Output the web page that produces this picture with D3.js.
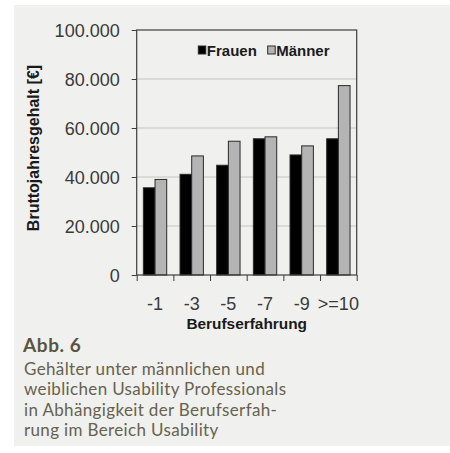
<!DOCTYPE html>
<html>
<head>
<meta charset="utf-8">
<script src="https://cdn.jsdelivr.net/npm/d3@7"></script>
<style>
  body { margin: 0; background: #fff; }
  svg { display: block; }
</style>
</head>
<body>
<svg width="450" height="453"></svg>
<script>
  const categories = ["-1", "-3", "-5", "-7", "-9", ">=10"];
  const series = ["Frauen", "Männer"];
  const frauen = [35600, 41100, 44800, 55600, 49000, 55600];
  const maenner = [39000, 48600, 54600, 56400, 52700, 77300];
  const yTicks = [0, 20000, 40000, 60000, 80000, 100000];
  const captionTitle = "Abb. 6";
  const captionLines = [
    "Gehälter unter männlichen und",
    "weiblichen Usability Professionals",
    "in Abhängigkeit der Berufserfah-",
    "rung im Bereich Usability",
  ];

  const svg = d3.select("svg");
  const colors = { Frauen: "#000000", Männer: "#b4b4b4" };
  const axisColor = "#3c3c3c";

  // panel background
  svg.append("rect")
    .attr("x", 14).attr("y", 5)
    .attr("width", 436).attr("height", 441)
    .attr("fill", "#f0f0ee");

  const plot = { left: 136.7, right: 356.7, top: 30, bottom: 275 };

  const x = d3.scaleBand().domain(categories).range([plot.left, plot.right]);
  const xSub = d3.scaleBand().domain(series).range([0, x.bandwidth()]).paddingOuter(0.57);
  const y = d3.scaleLinear().domain([0, 100000]).range([plot.bottom, plot.top]);
  const fmt = (v) => d3.format(",")(v).replace(/,/g, ".");

  // gridlines
  svg.append("g")
    .selectAll("line")
    .data(yTicks.filter((d) => d > 0 && d < 100000))
    .join("line")
    .attr("x1", plot.left).attr("x2", plot.right)
    .attr("y1", (d) => y(d)).attr("y2", (d) => y(d))
    .attr("stroke", "#c4c4c4").attr("stroke-width", 1);

  // bars
  const rows = categories.map((c, i) => ({ cat: c, Frauen: frauen[i], Männer: maenner[i] }));
  svg.append("g")
    .selectAll("g")
    .data(rows)
    .join("g")
    .attr("transform", (d) => `translate(${x(d.cat)},0)`)
    .selectAll("rect")
    .data((d) => series.map((s) => ({ s, v: d[s] })))
    .join("rect")
    .attr("x", (d) => xSub(d.s))
    .attr("width", xSub.bandwidth())
    .attr("y", (d) => y(d.v))
    .attr("height", (d) => y(0) - y(d.v))
    .attr("fill", (d) => colors[d.s])
    .attr("stroke", "#2a2a2a")
    .attr("stroke-width", 1);

  // frame
  svg.append("rect")
    .attr("x", plot.left).attr("y", plot.top)
    .attr("width", plot.right - plot.left).attr("height", plot.bottom - plot.top)
    .attr("fill", "none").attr("stroke", axisColor).attr("stroke-width", 1.2);

  // y axis
  const yAxis = svg.append("g")
    .attr("transform", `translate(${plot.left},0)`)
    .call(d3.axisLeft(y).tickValues(yTicks).tickFormat(fmt).tickSize(5).tickPadding(12));
  yAxis.select(".domain").remove();
  yAxis.selectAll("line").attr("stroke", axisColor);
  yAxis.selectAll("text")
    .attr("font-family", "Liberation Sans, Arial, sans-serif")
    .attr("font-size", 18).attr("fill", "#3a3a3a").attr("dy", "0.36em");

  // x axis: boundary ticks and centered labels
  const xb = d3.scaleLinear().domain([0, categories.length]).range([plot.left, plot.right]);
  const xTicks = svg.append("g")
    .attr("transform", `translate(0,${plot.bottom})`)
    .call(d3.axisBottom(xb).ticks(categories.length).tickFormat("").tickSize(6));
  xTicks.select(".domain").remove();
  xTicks.selectAll("line").attr("stroke", axisColor);

  const xAxis = svg.append("g")
    .attr("transform", `translate(0,${plot.bottom})`)
    .call(d3.axisBottom(x).tickSize(0).tickPadding(22));
  xAxis.select(".domain").remove();
  xAxis.selectAll("text")
    .attr("font-family", "Liberation Sans, Arial, sans-serif")
    .attr("font-size", 18).attr("fill", "#3a3a3a");

  // axis titles
  svg.append("text")
    .attr("x", (plot.left + plot.right) / 2).attr("y", 329)
    .attr("text-anchor", "middle")
    .attr("font-family", "Liberation Sans, Arial, sans-serif")
    .attr("font-weight", "bold").attr("font-size", 15.4).attr("fill", "#1a1a1a")
    .text("Berufserfahrung");

  svg.append("text")
    .attr("transform", `translate(39,${(65 + 231) / 2}) rotate(-90)`)
    .attr("text-anchor", "middle")
    .attr("font-family", "Liberation Sans, Arial, sans-serif")
    .attr("font-weight", "bold").attr("font-size", 16).attr("fill", "#1a1a1a")
    .text("Bruttojahresgehalt [€]");

  // legend
  const legend = svg.append("g").attr("transform", "translate(198.3,46)");
  const legendX = [0, 69.4];
  series.forEach((s, i) => {
    const g = legend.append("g").attr("transform", `translate(${legendX[i]},0)`);
    g.append("rect")
      .attr("width", 7.5).attr("height", 8)
      .attr("fill", colors[s]).attr("stroke", "#2a2a2a").attr("stroke-width", 1);
    g.append("text")
      .attr("x", 8.5).attr("y", 9.7)
      .attr("font-family", "Liberation Sans, Arial, sans-serif")
      .attr("font-weight", "bold").attr("font-size", 15).attr("fill", "#1a1a1a")
      .text(s);
  });

  // caption
  svg.append("text")
    .attr("x", 23).attr("y", 352)
    .attr("font-family", "Lato, sans-serif")
    .attr("font-weight", "bold").attr("font-size", 19).attr("fill", "#5a5442")
    .attr("letter-spacing", 0.6)
    .text(captionTitle);

  svg.append("g")
    .selectAll("text")
    .data(captionLines)
    .join("text")
    .attr("x", 24).attr("y", (d, i) => 375 + i * 20.4)
    .attr("font-family", "Lato, sans-serif")
    .attr("font-size", 17).attr("fill", "#67624f")
    .attr("letter-spacing", 0.35)
    .text((d) => d);
</script>
</body>
</html>
